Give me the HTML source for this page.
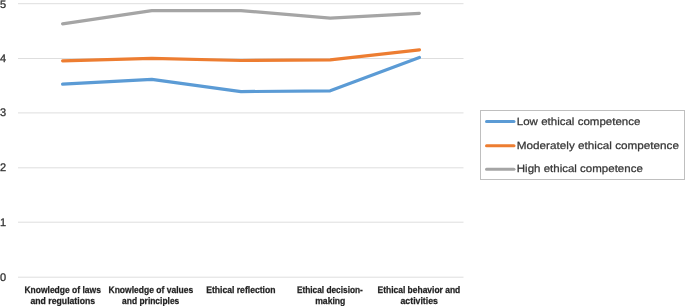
<!DOCTYPE html>
<html><head><meta charset="utf-8">
<style>
html,body{margin:0;padding:0;background:#fff;width:685px;height:306px;overflow:hidden}
svg{display:block;will-change:transform}
text{font-family:"Liberation Sans",sans-serif;text-rendering:geometricPrecision}
</style></head><body>
<svg width="685" height="306" viewBox="0 0 685 306">
<rect width="685" height="306" fill="#fff"/>
<g stroke="#dedede" stroke-width="1" fill="none">
<line x1="18" y1="3.7" x2="463.5" y2="3.7"/>
<line x1="18" y1="58.5" x2="463.5" y2="58.5"/>
<line x1="18" y1="112.9" x2="463.5" y2="112.9"/>
<line x1="18" y1="167.8" x2="463.5" y2="167.8"/>
<line x1="18" y1="222.2" x2="463.5" y2="222.2"/>
<line x1="18" y1="277.2" x2="463.5" y2="277.2"/>
</g>
<g font-size="11" fill="#333" stroke="#333" stroke-width="0.3">
<text x="0" y="7.9">5</text>
<text x="0" y="62.0">4</text>
<text x="0" y="116.4">3</text>
<text x="0" y="171.3">2</text>
<text x="0" y="225.7">1</text>
<text x="0" y="280.7">0</text>
</g>
<g fill="none" stroke-width="3.2" stroke-linecap="round" stroke-linejoin="round">
<polyline stroke="#5b9bd5" points="62.6,84.1 151.8,79.3 241.0,91.6 330.2,90.8 419.4,57.5"/>
<polyline stroke="#ed7d31" points="62.6,60.8 151.8,58.3 241.0,60.5 330.2,59.8 419.4,49.8"/>
<polyline stroke="#a5a5a5" points="62.6,23.8 151.8,10.6 241.0,10.6 330.2,18.2 419.4,13.3"/>
</g>
<g font-size="9.5" font-weight="bold" fill="#222" stroke="#222" stroke-width="0.25">
<text x="24.40" y="292.8" textLength="76.50" lengthAdjust="spacingAndGlyphs">Knowledge of laws</text>
<text x="30.50" y="303.6" textLength="64.60" lengthAdjust="spacingAndGlyphs">and regulations</text>
<text x="108.50" y="292.8" textLength="84.70" lengthAdjust="spacingAndGlyphs">Knowledge of values</text>
<text x="122.10" y="303.6" textLength="57.20" lengthAdjust="spacingAndGlyphs">and principles</text>
<text x="206.20" y="292.8" textLength="69.30" lengthAdjust="spacingAndGlyphs">Ethical reflection</text>
<text x="296.90" y="292.8" textLength="66.00" lengthAdjust="spacingAndGlyphs">Ethical decision-</text>
<text x="315.20" y="303.6" textLength="30.20" lengthAdjust="spacingAndGlyphs">making</text>
<text x="377.50" y="292.8" textLength="82.80" lengthAdjust="spacingAndGlyphs">Ethical behavior and</text>
<text x="400.50" y="303.6" textLength="37.40" lengthAdjust="spacingAndGlyphs">activities</text>
</g>
<rect x="480.5" y="110.5" width="204" height="69" fill="none" stroke="#bfbfbf" stroke-width="1"/>
<g stroke-width="3" stroke-linecap="round">
<line x1="486.5" y1="121.4" x2="514" y2="121.4" stroke="#5b9bd5"/>
<line x1="486.5" y1="145.7" x2="514" y2="145.7" stroke="#ed7d31"/>
<line x1="486.5" y1="169.3" x2="514" y2="169.3" stroke="#a5a5a5"/>
</g>
<g font-size="10.5" fill="#363636" stroke="#363636" stroke-width="0.25">
<text x="516.80" y="124.9" textLength="123.60" lengthAdjust="spacingAndGlyphs">Low ethical competence</text>
<text x="516.80" y="149.1" textLength="162.20" lengthAdjust="spacingAndGlyphs">Moderately ethical competence</text>
<text x="516.80" y="172.3" textLength="126.00" lengthAdjust="spacingAndGlyphs">High ethical competence</text>
</g>
</svg>
</body></html>
